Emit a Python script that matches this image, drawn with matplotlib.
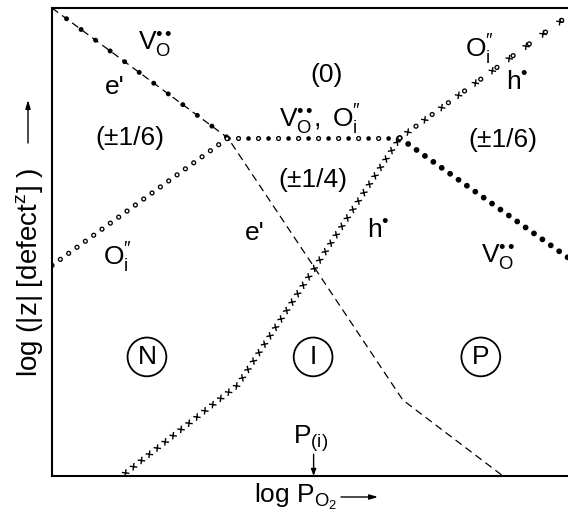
import matplotlib
matplotlib.use("Agg")
import matplotlib.pyplot as plt
from matplotlib import patheffects as pe

plt.rcParams['font.family'] = ['Liberation Sans', 'DejaVu Sans']
plt.rcParams['mathtext.fontset'] = 'custom'
plt.rcParams['mathtext.rm'] = 'Liberation Sans'
plt.rcParams['mathtext.it'] = 'Liberation Sans'
plt.rcParams['mathtext.bf'] = 'Liberation Sans:bold'
plt.rcParams['lines.scale_dashes'] = False

# break points of each defect branch (log pO2, log |z|[defect]) in arbitrary units
vo_x = [0.0, 3.41, 6.74, 10.0]
vo_y = [9.0, 6.5, 6.5, 4.2]
oi_x = [0.0, 3.41, 6.74, 10.0]
oi_y = [4.05, 6.5, 6.5, 8.85]
e_x = [0.0, 3.41, 6.80, 8.74]
e_y = [9.0, 6.5, 1.46, 0.0]
h_x = [1.35, 3.6, 6.74, 10.0]
h_y = [0.0, 1.75, 6.5, 8.85]
p_i = 5.07

regions = ['N', 'I', 'P']
region_x = [1.84, 5.06, 8.31]
region_y = 2.29

fig = plt.figure(figsize=(5.68, 5.19), dpi=100)
ax = fig.add_axes([52 / 568, 43 / 519, 516 / 568, 468 / 519])
ax.set_xlim(0, 10)
ax.set_ylim(0, 9)
ax.set_xticks([])
ax.set_yticks([])
ax.spines['right'].set_visible(False)
for s in ['left', 'top', 'bottom']:
    ax.spines[s].set_linewidth(1.5)


def dots(x, y, size, step, shift=0.0, color='k'):
    ax.plot(x, y, color=color, lw=size, linestyle=(shift, (0.01, step)),
            dash_capstyle='round')


def rings(x, y, size, step, shift=0.0):
    dots(x, y, size, step, shift)
    dots(x, y, size * 0.5, step, shift, color='w')


def crosses(x, y, step, arm):
    fx = [pe.TickedStroke(spacing=step, angle=a, length=arm / step)
          for a in (45, 135, 225, 315)]
    ax.plot(x, y, color='k', lw=1.0, path_effects=fx)


# e' : dashed
ax.plot(e_x, e_y, color='k', lw=0.9, linestyle=(0, (5.5, 3.5)))

# V_O : filled dots
dots(vo_x[0:2], vo_y[0:2], 3.6, 13.0)
dots(vo_x[1:3], vo_y[1:3], 3.4, 14.4)
dots(vo_x[2:4], vo_y[2:4], 4.2, 7.4)

# O_i : open circles
rings(oi_x[0:2], oi_y[0:2], 3.8, 7.4)
rings(oi_x[1:3], oi_y[1:3], 3.8, 14.4, shift=7.2)
rings(oi_x[2:4], oi_y[2:4], 3.8, 14.4)

# h : crosses
crosses(h_x[0:3], h_y[0:3], 7.2, 2.2)
crosses(h_x[2:4], h_y[2:4], 14.4, 2.2)

fs = 19
VO = r'$\mathregular{V_O^{•\,•}}$'
OI = r'$\mathregular{O_i^{″}}$'
VO_OI = r'$\mathregular{V_O^{•\,•},\ O_i^{″}}$'
H = r'$\mathregular{h^{•}}$'
kw = dict(ha='center', va='center', fontsize=fs)
ax.text(2.0, 8.29, VO, **kw)
ax.text(1.22, 7.48, "e'", **kw)
ax.text(1.51, 6.5, '(±1/6)', **kw)
ax.text(5.33, 7.71, '(0)', **kw)
ax.text(5.19, 6.85, VO_OI, **kw)
ax.text(5.06, 5.69, '(±1/4)', **kw)
ax.text(8.29, 8.19, OI, **kw)
ax.text(9.01, 7.58, H, **kw)
ax.text(8.74, 6.46, '(±1/6)', **kw)
ax.text(3.93, 4.67, "e'", **kw)
ax.text(1.26, 4.19, OI, **kw)
ax.text(6.32, 4.73, H, **kw)
ax.text(8.64, 4.19, VO, **kw)

for lab, x in zip(regions, region_x):
    ax.text(x, region_y, lab, ha='center', va='center', fontsize=fs,
            bbox=dict(boxstyle='circle,pad=0.28', fc='none', ec='k', lw=1.3))

ax.text(p_i - 0.05, 0.72, r'$\mathregular{P_{(i)}}$', **kw)
ax.annotate('', xy=(p_i, 0), xytext=(p_i, 0.42),
            arrowprops=dict(arrowstyle='-|>,head_length=0.4,head_width=0.15',
                            lw=1.0, color='k', shrinkA=0, shrinkB=0))

# axis labels with arrows
fig.text(296 / 568, 1 - 497 / 519, r'log P$_{\mathregular{O_2}}$',
         ha='center', va='center', fontsize=19)
fig.text(30 / 568, 1 - 272 / 519, r'log (|z| [defect$^{\mathregular{z}}$] )',
         ha='center', va='center', fontsize=20, rotation=90)
ax.annotate('', xy=(378 / 568, 1 - 497 / 519), xytext=(341 / 568, 1 - 497 / 519),
            xycoords='figure fraction', textcoords='figure fraction',
            arrowprops=dict(arrowstyle='-|>,head_length=0.5,head_width=0.15',
                            lw=1.0, color='k', shrinkA=0, shrinkB=0))
ax.annotate('', xy=(28 / 568, 1 - 100 / 519), xytext=(28 / 568, 1 - 143 / 519),
            xycoords='figure fraction', textcoords='figure fraction',
            arrowprops=dict(arrowstyle='-|>,head_length=0.5,head_width=0.15',
                            lw=1.0, color='k', shrinkA=0, shrinkB=0))

fig.savefig('out.png', dpi=100)
